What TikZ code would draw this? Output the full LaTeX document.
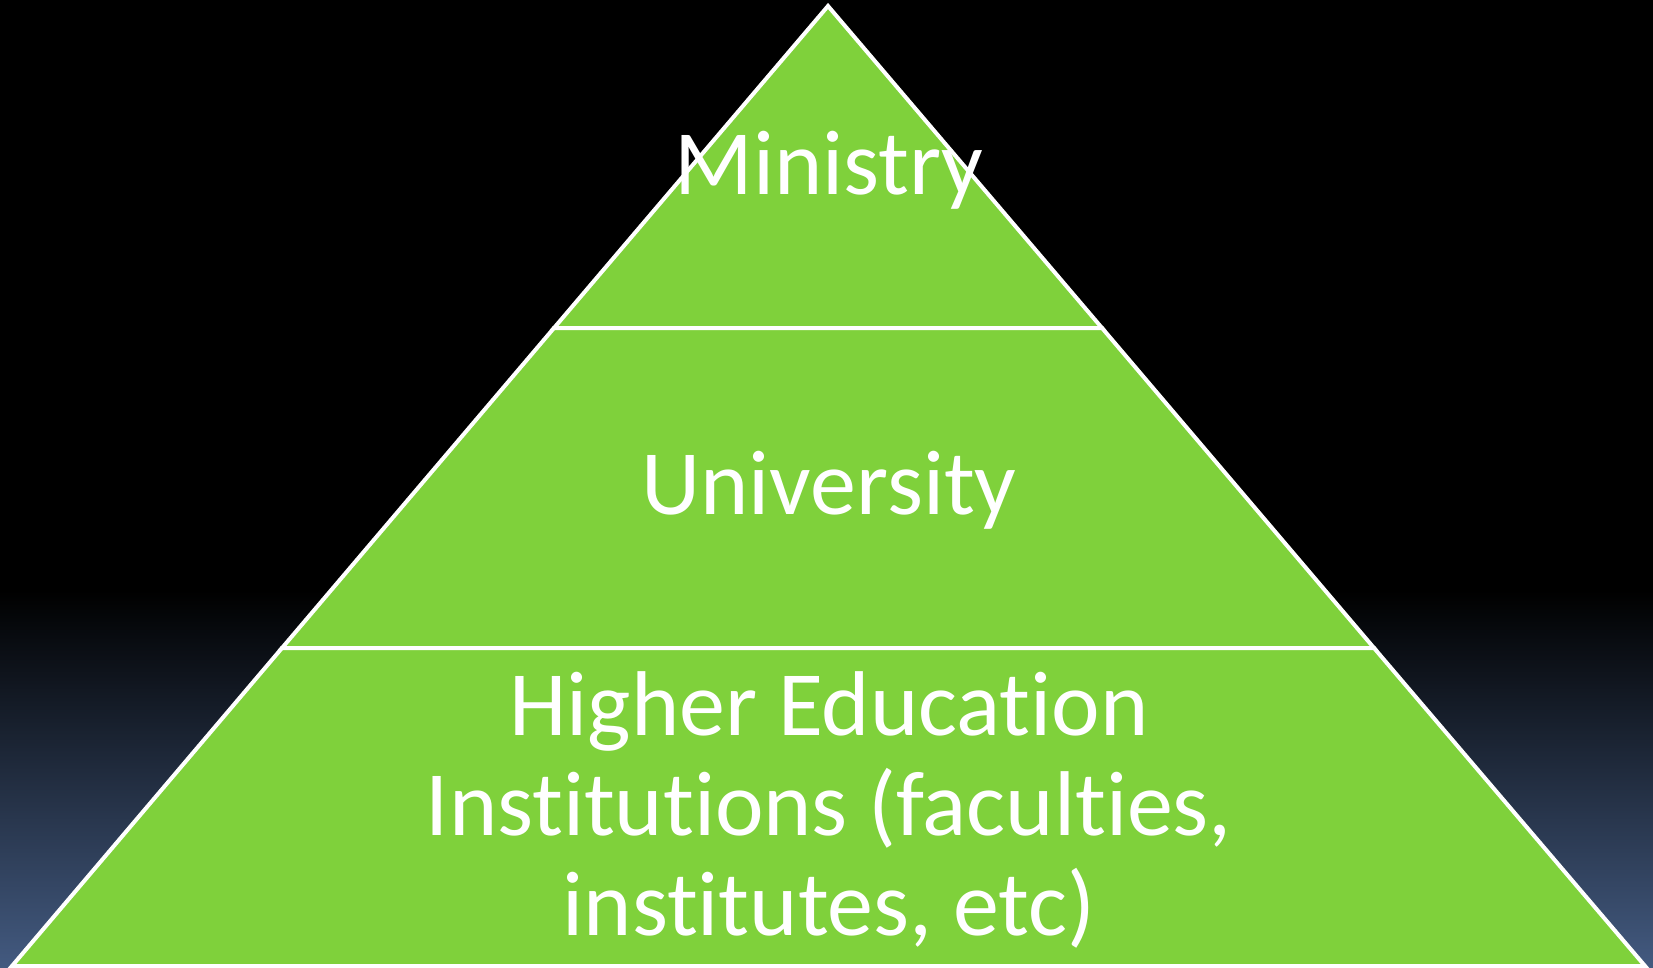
\documentclass[tikz,border=0pt]{standalone}
\usepackage{fontspec}
\setmainfont{Carlito}[Ligatures=CommonOff]
\definecolor{pgreen}{HTML}{7FD13B}
\definecolor{pblue}{HTML}{435A80}
\begin{document}
\begin{tikzpicture}[x=1pt,y=-1pt,
  layer/.style={fill=pgreen,draw=white,line width=4pt,line join=miter},
  lbl/.style={text=white,font=\fontsize{92}{100}\selectfont,anchor=base,inner sep=0pt,align=center}]
\useasboundingbox (0,0) rectangle (1653,968);
\fill[black] (0,0) rectangle (1653,968);
\shade[top color=black,bottom color=pblue] (0,590) rectangle (1653,968);
\coordinate (apex) at (828,6);
\coordinate (l1) at (554,328);
\coordinate (r1) at (1102,328);
\coordinate (l2) at (282,648);
\coordinate (r2) at (1374,648);
\coordinate (bl) at (12,966);
\coordinate (br) at (1645,966);
\draw[layer] (apex) -- (r1) -- (l1) -- cycle;
\draw[layer] (l1) -- (r1) -- (r2) -- (l2) -- cycle;
\draw[layer] (l2) -- (r2) -- (br) -- (bl) -- cycle;
\node[lbl] (ministry) at (829,195) {Ministry};
\node[lbl] (university) at (829,514) {University};
\node[lbl] (hei) at (829,935) {Higher Education\\Institutions (faculties,\\institutes, etc)};
\end{tikzpicture}
\end{document}
